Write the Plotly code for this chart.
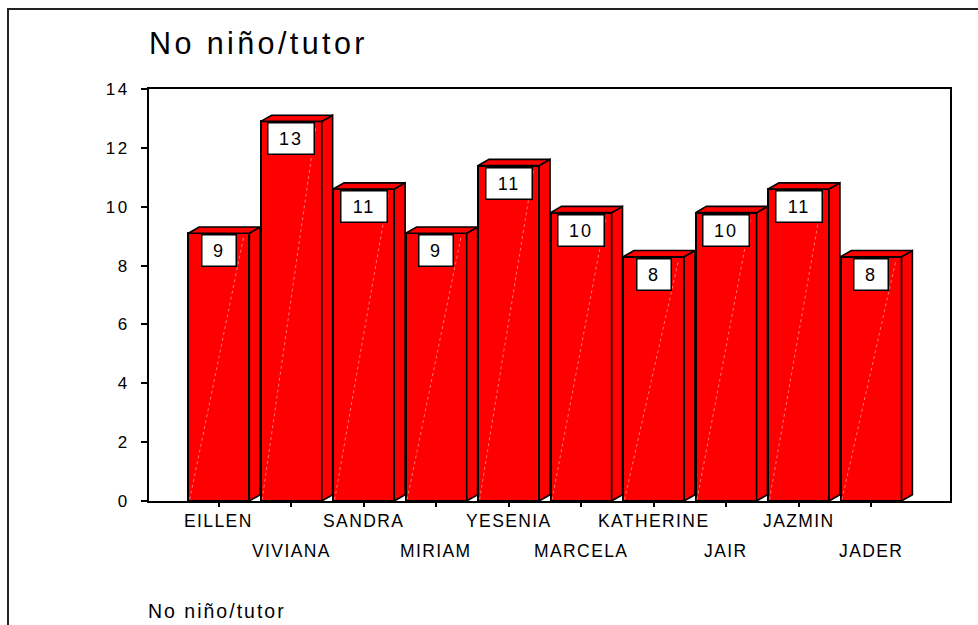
import plotly.graph_objects as go

# ---------------- data ----------------
categories = ["EILLEN", "VIVIANA", "SANDRA", "MIRIAM", "YESENIA",
              "MARCELA", "KATHERINE", "JAIR", "JAZMIN", "JADER"]
values = [9.1, 12.9, 10.6, 9.1, 11.4, 9.8, 8.3, 9.8, 10.6, 8.3]
y_tick_values = [0, 2, 4, 6, 8, 10, 12, 14]
chart_title = "No niño/tutor"
x_axis_title = "No niño/tutor"

# ---------------- layout constants ----------------
W, H = 978, 625
ML, MR, MT, MB = 149, 28, 89, 124
PW, PH = W - ML - MR, H - MT - MB
FONT = "Liberation Sans, Arial, sans-serif"


def px_x(px):
    return (px - ML) / PW


def px_y(py):
    return (H - MB - py) / PH


def spaced(text, sp):
    return f'<span style="letter-spacing:{sp}px">{text}</span>'


bar_w = 0.842   # front face width (category units)
dx = 0.15       # 3D depth, x
dy = 0.21       # 3D depth, y
RED = "#FF0000"

xs = list(range(len(categories)))

fig = go.Figure()

# front faces
fig.add_trace(go.Bar(
    x=xs, y=values, width=bar_w,
    marker=dict(color=RED, line=dict(color="black", width=2)),
    hoverinfo="skip", showlegend=False,
))

# faint diagonal highlight on front faces
hx, hy = [], []
for i, v in zip(xs, values):
    hx += [i - bar_w / 2 + 0.02, i + bar_w / 2 - 0.08, None]
    hy += [0.05, v - 0.15, None]
fig.add_trace(go.Scatter(
    x=hx, y=hy, mode="lines",
    line=dict(color="rgba(255,200,200,0.6)", width=1, dash="dot"),
    hoverinfo="skip", showlegend=False,
))

# side faces
sx, sy = [], []
for i, v in zip(xs, values):
    r = i + bar_w / 2
    sx += [r, r + dx, r + dx, r, r, None]
    sy += [0, dy, v + dy, v, 0, None]
fig.add_trace(go.Scatter(
    x=sx, y=sy, mode="lines", fill="toself", fillcolor=RED,
    line=dict(color="black", width=1.6),
    hoverinfo="skip", showlegend=False,
))

# top faces
tx, ty = [], []
for i, v in zip(xs, values):
    l, r = i - bar_w / 2, i + bar_w / 2
    tx += [l, l + dx, r + dx, r, l, None]
    ty += [v, v + dy, v + dy, v, v, None]
fig.add_trace(go.Scatter(
    x=tx, y=ty, mode="lines", fill="toself", fillcolor=RED,
    line=dict(color="black", width=1.6),
    hoverinfo="skip", showlegend=False,
))

annotations = []

# value labels in white boxes
for i, v in zip(xs, values):
    txt = str(int(round(v)))
    annotations.append(dict(
        x=i, y=v, xref="x", yref="y",
        text=spaced(txt, 2), showarrow=False,
        xanchor="center", yanchor="top", yshift=-1,
        font=dict(family=FONT, size=18, color="black"),
        bgcolor="white", bordercolor="black", borderwidth=1.5,
        borderpad=0, width=33 if len(txt) == 1 else 45, height=30,
    ))

# category labels (two staggered rows)
for i, name in enumerate(categories):
    py = 521 if i % 2 == 0 else 551
    annotations.append(dict(
        x=i, y=px_y(py), xref="x", yref="paper",
        text=spaced(name, 1.4), showarrow=False,
        xanchor="center", yanchor="middle",
        font=dict(family=FONT, size=17.5, color="black"),
    ))

# chart title
annotations.append(dict(
    x=px_x(147), y=px_y(43), xref="paper", yref="paper",
    text=spaced(chart_title, 3.4), showarrow=False,
    xanchor="left", yanchor="middle",
    font=dict(family=FONT, size=30.5, color="black"),
))

# axis title (bottom)
annotations.append(dict(
    x=px_x(146), y=px_y(611), xref="paper", yref="paper",
    text=spaced(x_axis_title, 2.0), showarrow=False,
    xanchor="left", yanchor="middle",
    font=dict(family=FONT, size=19.5, color="black"),
))

shapes = [dict(
    type="rect", xref="paper", yref="paper",
    x0=px_x(8), x1=px_x(1000), y0=px_y(700), y1=px_y(9),
    line=dict(color="#222222", width=2), fillcolor="rgba(0,0,0,0)",
    layer="below",
)]

fig.update_layout(
    width=W, height=H,
    margin=dict(l=ML, r=MR, t=MT, b=MB, pad=0),
    paper_bgcolor="white", plot_bgcolor="white",
    showlegend=False,
    annotations=annotations,
    shapes=shapes,
    bargap=0,
)

fig.update_xaxes(
    range=[-0.963, 10.09],
    tickvals=xs, showticklabels=False,
    ticks="outside", ticklen=4, tickwidth=1.5, tickcolor="black",
    showline=True, linewidth=2, linecolor="black", mirror=True,
    showgrid=False, zeroline=False, fixedrange=True,
)

fig.update_yaxes(
    range=[0, 14],
    tickvals=y_tick_values,
    ticktext=[spaced(str(t), 2.5) for t in y_tick_values],
    ticks="outside", ticklen=6, tickwidth=1.5, tickcolor="black",
    tickfont=dict(family=FONT, size=17, color="black"),
    ticklabelstandoff=8,
    showline=True, linewidth=2, linecolor="black", mirror=True,
    showgrid=False, zeroline=False, fixedrange=True,
)

fig.write_html(
    "out.html",
    config={"displayModeBar": False},
    post_script="document.body.style.margin='0';document.body.style.overflow='hidden';",
)
